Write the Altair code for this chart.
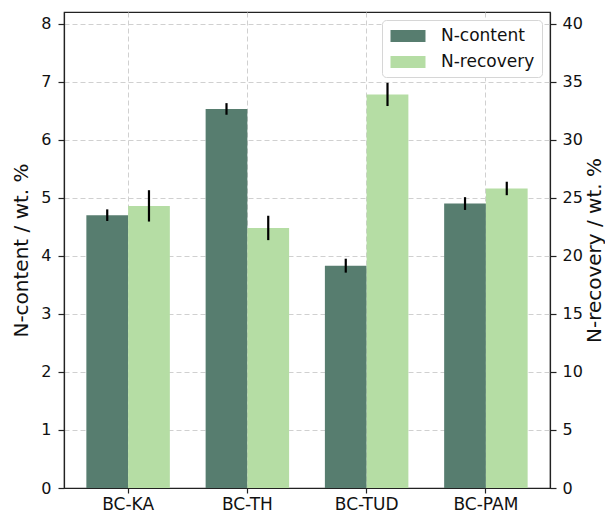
import altair as alt
import pandas as pd

categories = ["BC-KA", "BC-TH", "BC-TUD", "BC-PAM"]
series = ["N-content", "N-recovery"]
n_content = [4.70, 6.53, 3.83, 4.90]
n_content_err = [0.10, 0.10, 0.12, 0.11]
n_recovery = [24.3, 22.4, 33.9, 25.8]
n_recovery_err = [1.35, 1.05, 1.00, 0.58]
colors = ["#577d6f", "#b5dda4"]

df_c = pd.DataFrame({
    "cat": categories,
    "series": "N-content",
    "value": n_content,
    "lo": [v - e for v, e in zip(n_content, n_content_err)],
    "hi": [v + e for v, e in zip(n_content, n_content_err)],
})
df_r = pd.DataFrame({
    "cat": categories,
    "series": "N-recovery",
    "value": n_recovery,
    "lo": [v - e for v, e in zip(n_recovery, n_recovery_err)],
    "hi": [v + e for v, e in zip(n_recovery, n_recovery_err)],
})

FONT = "DejaVu Sans"
GRID = dict(grid=True, gridColor="#d0d0d0", gridDash=[5, 3], gridWidth=1)

x_enc = alt.X(
    "cat:N", sort=categories, title=None,
    scale=alt.Scale(paddingInner=0.3, paddingOuter=0.1875),
    axis=alt.Axis(labelAngle=0, labelFontSize=17, tickSize=5, labelPadding=3, **GRID),
)
xoff_enc = alt.XOffset(
    "series:N", sort=series,
    scale=alt.Scale(domain=series, paddingInner=0, paddingOuter=0),
)
color_enc = alt.Color(
    "series:N",
    scale=alt.Scale(domain=series, range=colors),
    legend=alt.Legend(
        title=None, orient="top-right", offset=8,
        labelFontSize=17, labelFont=FONT, labelColor="#111",
        symbolType="M-2,-0.7H2V0.7H-2Z", symbolSize=306,
        symbolStrokeWidth=0, symbolOpacity=1,
        fillColor="white", strokeColor="#d6d6d6", cornerRadius=4,
        padding=7, rowPadding=9, labelOffset=24, symbolOffset=10,
    ),
)

left_axis = alt.Axis(
    title="N-content / wt. %", values=list(range(9)), tickSize=6,
    labelPadding=7, labelFontSize=16, titleFontSize=20, titlePadding=9,
    **GRID,
)
right_axis = alt.Axis(
    title="N-recovery / wt. %", values=list(range(0, 45, 5)), orient="right",
    tickSize=6, labelPadding=6, labelFontSize=16, titleFontSize=20,
    titlePadding=2, titleAngle=270, titleBaseline="top", grid=False,
)

left_scale = alt.Scale(domain=[0, 8.2], nice=False, zero=True)
right_scale = alt.Scale(domain=[0, 41], nice=False, zero=True)

left_bars = alt.Chart(df_c).mark_bar(opacity=1).encode(
    x=x_enc, xOffset=xoff_enc,
    y=alt.Y("value:Q", scale=left_scale, axis=left_axis),
    color=color_enc,
)
left_err = alt.Chart(df_c).mark_rule(color="black", strokeWidth=2.2).encode(
    x=x_enc, xOffset=xoff_enc,
    y=alt.Y("lo:Q", scale=left_scale, axis=left_axis),
    y2="hi:Q",
)
right_bars = alt.Chart(df_r).mark_bar(opacity=1).encode(
    x=x_enc, xOffset=xoff_enc,
    y=alt.Y("value:Q", scale=right_scale, axis=right_axis),
    color=color_enc,
)
right_err = alt.Chart(df_r).mark_rule(color="black", strokeWidth=2.2).encode(
    x=x_enc, xOffset=xoff_enc,
    y=alt.Y("lo:Q", scale=right_scale, axis=right_axis),
    y2="hi:Q",
)

left = alt.layer(left_bars, left_err)
right = alt.layer(right_bars, right_err)

chart = (
    alt.layer(left, right)
    .resolve_scale(y="independent")
    .properties(
        width=597, height=504,
        autosize=alt.AutoSizeParams(type="fit", contains="padding"),
        padding={"left": 3, "top": 4, "right": 0, "bottom": 0},
    )
    .configure_view(stroke="#222", strokeWidth=1.2)
    .configure_axis(
        labelFont=FONT, titleFont=FONT, labelColor="#111", titleColor="#111",
        titleFontWeight="normal", domainColor="#222", domainWidth=1.2,
        tickColor="#222", tickWidth=1.2,
    )
    .configure_legend(labelFont=FONT)
)

chart.save("out.html", embed_options={"renderer": "svg", "actions": False})
